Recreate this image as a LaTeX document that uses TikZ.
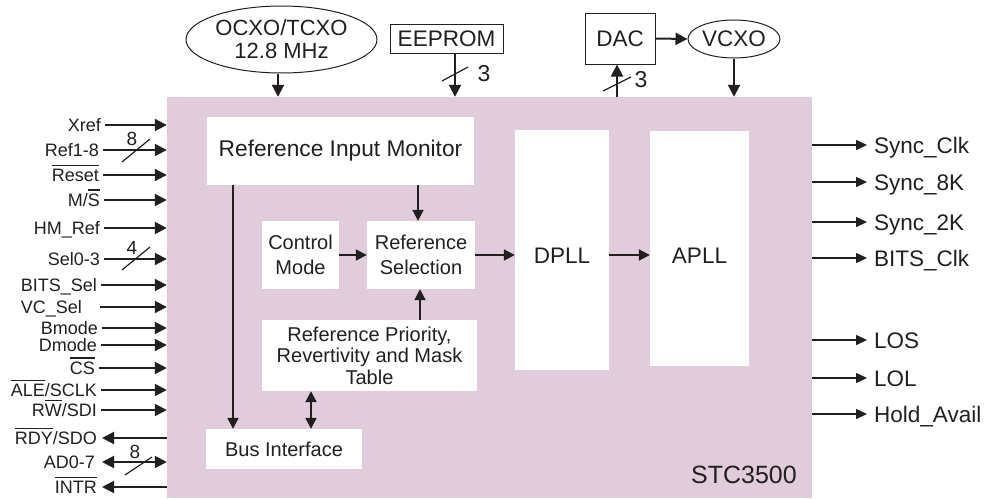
\documentclass[tikz,border=0pt]{standalone}
\usepackage{fontspec}
\setmainfont{Liberation Sans}
\usetikzlibrary{arrows.meta,shapes.geometric}
\definecolor{chipbg}{RGB}{224,204,218}
\definecolor{ink}{RGB}{35,31,32}
\newcommand{\ovl}[1]{\setbox0\hbox{#1}\leavevmode\rlap{\rule[\dimexpr\ht0+3pt\relax]{\wd0}{1.5pt}}\box0}
\newcommand{\fsMain}{\fontsize{22.5}{20}\selectfont}
\newcommand{\fsOsc}{\fontsize{22}{23}\selectfont}
\newcommand{\fsInner}{\fontsize{20}{25}\selectfont}
\newcommand{\fsTable}{\fontsize{20}{21.5}\selectfont}
\newcommand{\fsLeft}{\fontsize{18}{20}\selectfont}
\newcommand{\fsNum}{\fontsize{19}{20}\selectfont}
\newcommand{\fsThree}{\fontsize{23}{20}\selectfont}
\newcommand{\fsChip}{\fontsize{25}{25}\selectfont}
\begin{document}
\begin{tikzpicture}[x=1pt,y=-1pt,
  every node/.append style={text=ink},
  inarr/.style={draw=ink, line width=2pt, -{Triangle[length=12pt,width=12pt]}},
  inarrboth/.style={draw=ink, line width=2pt, {Triangle[length=12pt,width=12pt]}-{Triangle[length=12pt,width=12pt]}},
  outarr/.style={draw=ink, line width=1.5pt, -{Triangle[length=11pt,width=10pt]}},
  arr/.style={draw=ink, line width=2pt, -{Triangle[length=11pt,width=11pt]}},
  arrboth/.style={draw=ink, line width=2pt, {Triangle[length=11pt,width=11pt]}-{Triangle[length=11pt,width=11pt]}},
  slashmark/.style={draw=ink, line width=1.2pt},
  leftlbl/.style={anchor=east, inner sep=0pt, font=\fsLeft, text height=13pt, text depth=0pt},
  rightlbl/.style={anchor=west, inner sep=0pt, font=\fsMain, text height=16.2pt, text depth=0pt},
  numlbl/.style={inner sep=0pt, font=\fsNum},
  threelbl/.style={inner sep=0pt, font=\fsThree},
  inbox/.style={fill=white, inner sep=0pt, align=center, font=\fsInner},
  extbox/.style={draw=ink, line width=1pt, fill=white, inner sep=0pt, font=\fsMain},
  extell/.style={ellipse, draw=ink, line width=1pt, inner sep=0pt, font=\fsMain, align=center},
]
\useasboundingbox (0,0) rectangle (990,498);

% chip body
\node[fill=chipbg, draw=none, inner sep=0pt, minimum width=645pt, minimum height=401pt] (chip) at (489.5,297.5) {};
\node[anchor=east, font=\fsChip, inner sep=0pt, text height=18pt, text depth=0pt] (chipname) at (797,474) {STC3500};

% inner blocks
\node[inbox, font=\fontsize{22.7}{25}\selectfont, minimum width=267pt, minimum height=68pt] (RIM) at (340.5,151) {Reference Input Monitor};
\node[inbox, minimum width=77pt, minimum height=68pt] (CM) at (300.5,255) {Control\\Mode};
\node[inbox, minimum width=108pt, minimum height=68pt] (RS) at (421,255) {Reference\\Selection};
\node[inbox, font=\fsTable, minimum width=215pt, minimum height=71pt] (RP) at (369.5,355.5) {Reference Priority,\\Revertivity and Mask\\Table};
\node[inbox, minimum width=156pt, minimum height=40pt] (BI) at (284,449) {Bus Interface};
\node[inbox, font=\fsMain, minimum width=94pt, minimum height=240pt, text height=26.4pt, text depth=0pt] (DPLL) at (562,250) {DPLL};
\node[inbox, font=\fsMain, minimum width=99pt, minimum height=235pt, text height=29.2pt, text depth=0pt] (APLL) at (699.5,248.5) {APLL};

% inner connectors
\coordinate (rimL) at ([xshift=-107.5pt]RIM.south);
\draw[arr] (rimL) -- (rimL |- BI.north);
\coordinate (rimR) at ([xshift=-3pt]RS.north);
\draw[arr] (rimR |- RIM.south) -- (rimR);
\draw[arr] (CM.east) -- (RS.west);
\coordinate (rpU) at ([xshift=-1pt]RS.south);
\draw[arr] (rpU |- RP.north) -- (rpU);
\coordinate (rpB) at ([xshift=-58.5pt]RP.south);
\draw[arrboth] (rpB) -- (rpB |- BI.north);
\draw[arr] (RS.east) -- (RS.east -| DPLL.west);
\draw[arr] (RS.east -| DPLL.east) -- (RS.east -| APLL.west);

% top external parts
\node[extell, font=\fsOsc, minimum width=191pt, minimum height=67pt] (ocxo) at (281.5,39.5) {OCXO/TCXO\\12.8 MHz};
\node[extbox, minimum width=113pt, minimum height=29pt] (eeprom) at (446.5,39) {EEPROM};
\node[extbox, minimum width=70pt, minimum height=51pt] (dac) at (620,38.5) {DAC};
\node[extell, minimum width=92pt, minimum height=38pt] (vcxo) at (734,39) {VCXO};

\coordinate (ocxoA) at ([xshift=-3.5pt]ocxo.south);
\draw[inarr] (ocxoA) -- (ocxoA |- chip.north);
\coordinate (eepA) at ([xshift=8.5pt]eeprom.south);
\draw[inarr] (eepA) -- (eepA |- chip.north);
\draw[slashmark] (455,74) ++(-13,7) -- ++(26,-14);
\node[threelbl] (three1) at (484,74) {3};
\coordinate (dacA) at ([xshift=-3pt]dac.south);
\draw[inarr] (dacA |- chip.north) -- (dacA);
\draw[slashmark] (617,84) ++(-14,7) -- ++(28,-14);
\node[threelbl] (three2) at (641,80) {3};
\draw[inarr] (dac.east) -- (vcxo.west);
\draw[inarr] (vcxo.south) -- (vcxo.south |- chip.north);

% left signals
\node[leftlbl] (lXref) at (101,125) {Xref};
\node[leftlbl] (lRef) at (99,150) {Ref1-8};
\node[leftlbl] (lReset) at (99,175) {\ovl{Reset}};
\node[leftlbl] (lMS) at (100,200) {M/\ovl{S}};
\node[leftlbl] (lHM) at (100,228) {HM\_Ref};
\node[leftlbl] (lSel) at (100,259) {Sel0-3};
\node[leftlbl] (lBITS) at (97,285) {BITS\_Sel};
\node[leftlbl] (lVC) at (82,307) {VC\_Sel};
\node[leftlbl] (lB) at (98,328) {Bmode};
\node[leftlbl] (lD) at (97,345) {Dmode};
\node[leftlbl] (lCS) at (95,368) {\ovl{CS}};
\node[leftlbl] (lALE) at (97,390) {\ovl{ALE}/SCLK};
\node[leftlbl] (lRW) at (97,410) {R\ovl{W}/SDI};
\node[leftlbl] (lRDY) at (97,438) {\ovl{RDY}/SDO};
\node[leftlbl] (lAD) at (95,462) {AD0-7};
\node[leftlbl] (lINTR) at (97,487) {\ovl{INTR}};

\foreach \n in {lXref,lRef,lReset,lMS,lHM,lSel,lBITS,lB,lD,lCS,lALE,lRW}
  \draw[inarr] ([xshift=4pt]\n.east) -- (\n.east -| chip.west);
\draw[inarr] ([xshift=18pt]lVC.east) -- (lVC.east -| chip.west);
\draw[inarr] (lRDY.east -| chip.west) -- ([xshift=5pt]lRDY.east);
\draw[inarr] (lINTR.east -| chip.west) -- ([xshift=5pt]lINTR.east);
\draw[inarrboth] ([xshift=7pt]lAD.east) -- (lAD.east -| chip.west);

\draw[slashmark] (136,150.5) ++(-14,11.5) -- ++(28,-23);
\node[numlbl] (n8a) at (132,138.5) {8};
\draw[slashmark] (136,258.5) ++(-14,11.5) -- ++(28,-23);
\node[numlbl] (n4) at (132,247.5) {4};
\draw[slashmark] (138.5,466) ++(-13.5,9) -- ++(27,-18);
\node[numlbl] (n8b) at (135,451.5) {8};

% right signals
\node[rightlbl] (oSC) at (874,145) {Sync\_Clk};
\node[rightlbl] (oS8) at (874,182) {Sync\_8K};
\node[rightlbl] (oS2) at (874,222) {Sync\_2K};
\node[rightlbl] (oBC) at (874,258) {BITS\_Clk};
\node[rightlbl] (oLOS) at (874,340) {LOS};
\node[rightlbl] (oLOL) at (874,378) {LOL};
\node[rightlbl] (oHA) at (874,414) {Hold\_Avail};
\foreach \n in {oSC,oS8,oS2,oBC,oLOS,oLOL,oHA}
  \draw[outarr] (\n.west -| chip.east) -- ([xshift=-7pt]\n.west);
\end{tikzpicture}
\end{document}
